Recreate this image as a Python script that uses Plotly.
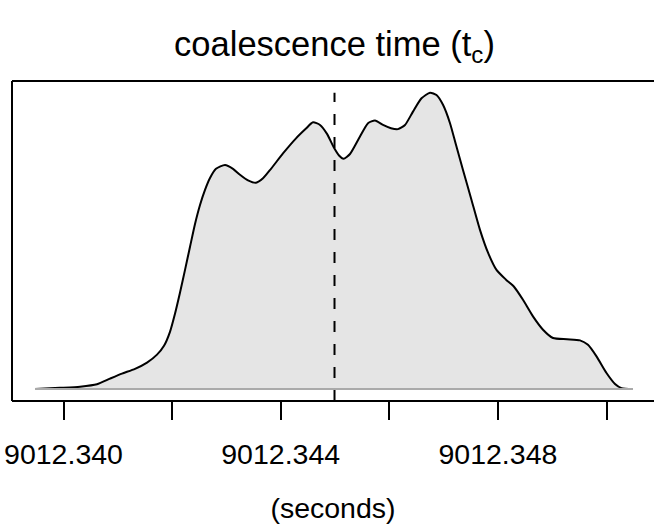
import plotly.graph_objects as go

# Density estimate of coalescence time samples (seconds) -- relative density
t_seconds = [
    9012.339475, 9012.339936, 9012.340304, 9012.340617, 9012.340856, 9012.341077,
    9012.341317, 9012.341538, 9012.341722, 9012.341851, 9012.341961, 9012.342053,
    9012.342145, 9012.342238, 9012.342330, 9012.342422, 9012.342514, 9012.342606,
    9012.342698, 9012.342808, 9012.342974, 9012.343122, 9012.343250, 9012.343398,
    9012.343545, 9012.343674, 9012.343821, 9012.344042, 9012.344282, 9012.344466,
    9012.344595, 9012.344724, 9012.344853, 9012.344982, 9012.345074, 9012.345157,
    9012.345276, 9012.345460, 9012.345608, 9012.345737, 9012.345884, 9012.346031,
    9012.346160, 9012.346289, 9012.346436, 9012.346593, 9012.346750, 9012.346869,
    9012.346989, 9012.347118, 9012.347228, 9012.347357, 9012.347514, 9012.347670,
    9012.347818, 9012.347974, 9012.348149, 9012.348297, 9012.348462, 9012.348646,
    9012.348831, 9012.349015, 9012.349273, 9012.349512, 9012.349659, 9012.349816,
    9012.350000, 9012.350157, 9012.350276, 9012.350488,
]
density = [
    0.000, 0.004, 0.008, 0.016, 0.035, 0.052,
    0.068, 0.089, 0.116, 0.146, 0.193, 0.254,
    0.325, 0.402, 0.480, 0.557, 0.621, 0.672,
    0.712, 0.743, 0.756, 0.743, 0.723, 0.704,
    0.696, 0.711, 0.743, 0.795, 0.846, 0.879,
    0.900, 0.891, 0.861, 0.814, 0.788, 0.777,
    0.793, 0.852, 0.897, 0.906, 0.891, 0.880,
    0.877, 0.891, 0.936, 0.981, 1.000, 0.992,
    0.959, 0.897, 0.824, 0.739, 0.638, 0.537,
    0.460, 0.402, 0.369, 0.345, 0.301, 0.245,
    0.200, 0.172, 0.168, 0.164, 0.149, 0.110,
    0.054, 0.017, 0.003, 0.000,
]
label_values = [9012.340, 9012.344, 9012.348]
tick_labels = ["9012.340", "9012.344", "9012.348"]
tick_start, tick_step = 9012.340, 0.002
tc_center = 9012.344991

FONT = "Liberation Sans, Arial, Helvetica, sans-serif"

W, H = 654, 524
ML, MR, MT, MB = 12, 0, 81, 123
# pixel mapping: x_px = 63.5 + (v - 9012.340) * 54300
scale = 54300.0
x_lo = 9012.340 + (ML - 63.5) / scale
x_hi = 9012.340 + (W - MR - 63.5) / scale
y_lo, y_hi = -0.0405, 1.0394

fig = go.Figure()

# filled density
fig.add_trace(go.Scatter(
    x=t_seconds, y=density, mode="lines", fill="tozeroy",
    fillcolor="rgb(229,229,229)",
    line=dict(color="black", width=2, shape="spline", smoothing=0.6),
    showlegend=False,
))
# zero baseline (grey) across density support
fig.add_trace(go.Scatter(
    x=[t_seconds[0], t_seconds[-1]], y=[0, 0], mode="lines",
    line=dict(color="rgb(170,170,170)", width=2), hoverinfo="skip", showlegend=False,
))
# dashed central value
fig.add_trace(go.Scatter(
    x=[tc_center, tc_center], y=[y_lo, max(density)], mode="lines",
    line=dict(color="black", width=2, dash="11px,12px"), showlegend=False,
))

fig.update_layout(
    width=W, height=H,
    margin=dict(l=ML, r=MR, t=MT, b=MB, pad=0, autoexpand=False),
    paper_bgcolor="white", plot_bgcolor="white",
    font=dict(family=FONT, color="black"),
    title=dict(
        text="coalescence time (t<sub>c</sub>)",
        x=(ML + 657) / 2 / W, xanchor="center",
        y=1 - 44 / H, yanchor="middle", yref="container",
        font=dict(size=34.5, family=FONT, color="black"),
    ),
    xaxis=dict(
        range=[x_lo, x_hi], showgrid=False, zeroline=False,
        automargin=False,
        tickmode="array", tickvals=label_values, ticktext=tick_labels,
        ticks="outside", ticklen=18, tickwidth=2, tickcolor="black",
        minor=dict(tickmode="linear", tick0=tick_start, dtick=tick_step,
                   ticks="outside", ticklen=18, tickwidth=2, tickcolor="black",
                   showgrid=False),
        showline=False,
        tickfont=dict(size=28.5, family=FONT, color="black"),
        ticklabelstandoff=10,
        title=dict(text="(seconds)", font=dict(size=28.5, family=FONT, color="black"), standoff=28),
    ),
    yaxis=dict(range=[y_lo, y_hi], visible=False, showgrid=False, zeroline=False,
               automargin=False),
    showlegend=False,
    shapes=[
        dict(type="line", xref="paper", yref="paper", x0=0, x1=1.05, y0=0, y1=0,
             line=dict(color="black", width=2)),
        dict(type="line", xref="paper", yref="paper", x0=0, x1=1.05, y0=1, y1=1,
             line=dict(color="black", width=2)),
        dict(type="line", xref="paper", yref="paper", x0=0, x1=0, y0=0, y1=1,
             line=dict(color="black", width=2)),
    ],
)

fig.write_html(
    "out.html",
    config={"displayModeBar": False},
    post_script="document.body.style.margin='0';document.body.style.overflow='hidden';",
)
